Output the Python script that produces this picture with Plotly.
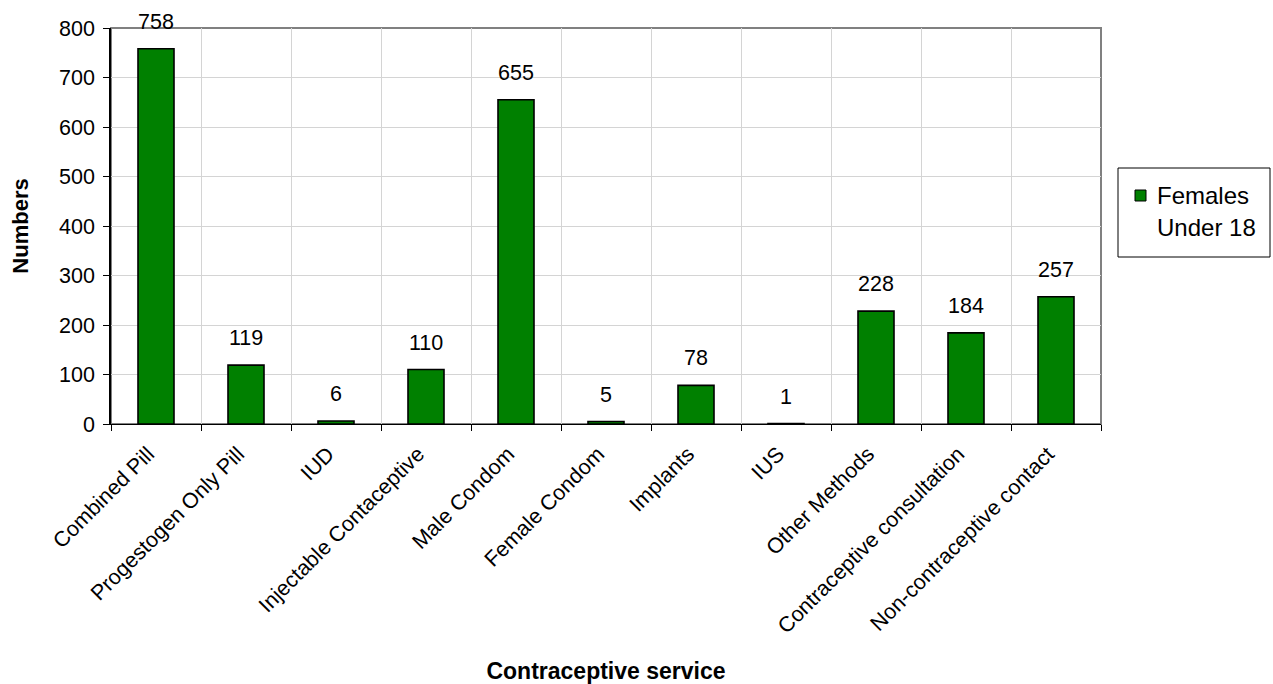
import plotly.graph_objects as go

# Contraceptive services provided to females under 18
services = [
    "Combined Pill", "Progestogen Only Pill", "IUD", "Injectable Contaceptive",
    "Male Condom", "Female Condom", "Implants", "IUS", "Other Methods",
    "Contraceptive consultation", "Non-contraceptive contact",
]
counts = [758, 119, 6, 110, 655, 5, 78, 1, 228, 184, 257]
series_name = ["Females", "Under 18"]
y_ticks = [0, 100, 200, 300, 400, 500, 600, 700, 800]

FONT = "Liberation Sans, Arial, sans-serif"
GREEN = "#008000"
TICK_SIZE = 21.5

W, H = 1273, 684
L, R, T, B = 111, 172, 28, 260
pw, ph = W - L - R, H - T - B


def px_x(p):
    return (p - L) / pw


def px_y(p):
    return (H - B - p) / ph


fig = go.Figure()
fig.add_trace(go.Bar(
    x=services, y=counts, name=" ".join(series_name),
    marker=dict(color=GREEN, line=dict(color="black", width=1.6)),
    showlegend=False,
))

# value labels above each bar
for s, v in zip(services, counts):
    fig.add_annotation(x=s, y=v, text=str(v), showarrow=False,
                       yanchor="middle", yshift=27,
                       font=dict(family=FONT, size=TICK_SIZE, color="black"))

# plot-area frame (grey top/right edges)
fig.add_shape(type="rect", xref="paper", yref="paper", x0=0, x1=1, y0=0, y1=1,
              line=dict(color="#808080", width=2), layer="below")

# legend box
fig.add_shape(type="rect", xref="paper", yref="paper",
              x0=px_x(1118), x1=px_x(1270), y0=px_y(257), y1=px_y(168),
              line=dict(color="black", width=1), fillcolor="white")
fig.add_shape(type="rect", xref="paper", yref="paper",
              x0=px_x(1135), x1=px_x(1146), y0=px_y(201), y1=px_y(190),
              line=dict(color="black", width=1), fillcolor=GREEN)
for line_text, cy in zip(series_name, [195, 228]):
    fig.add_annotation(xref="paper", yref="paper", x=px_x(1155), y=px_y(cy),
                       text=line_text, showarrow=False, xanchor="left",
                       yanchor="middle",
                       font=dict(family=FONT, size=24, color="black"))

fig.update_layout(
    width=W, height=H, autosize=False,
    margin=dict(l=L, r=R, t=T, b=B, autoexpand=False),
    paper_bgcolor="white", plot_bgcolor="white",
    bargap=0.6,
    font=dict(family=FONT, size=TICK_SIZE, color="black"),
    xaxis=dict(
        type="category", tickson="boundaries", ticks="outside", ticklen=6,
        tickcolor="black", tickangle=-45, ticklabelstandoff=8,
        ticklabelshift=-8,
        showgrid=True, gridcolor="#d4d4d4", gridwidth=1,
        showline=True, linecolor="black", linewidth=1,
        tickfont=dict(family=FONT, size=TICK_SIZE, color="black"),
        title=dict(text="<b>Contraceptive service</b>", standoff=25,
                   font=dict(family=FONT, size=23, color="black")),
        range=[-0.5, len(services) - 0.5],
        automargin=False,
    ),
    yaxis=dict(
        range=[0, 800], tickvals=y_ticks, ticks="outside", ticklen=6,
        tickcolor="black", ticklabelstandoff=4,
        showgrid=True, gridcolor="#d4d4d4", gridwidth=1,
        showline=True, linecolor="black", linewidth=1.5, zeroline=False,
        tickfont=dict(family=FONT, size=TICK_SIZE, color="black"),
        title=dict(text="<b>Numbers</b>", standoff=24,
                   font=dict(family=FONT, size=22, color="black")),
        automargin=False,
    ),
)

fig.write_html("out.html")
